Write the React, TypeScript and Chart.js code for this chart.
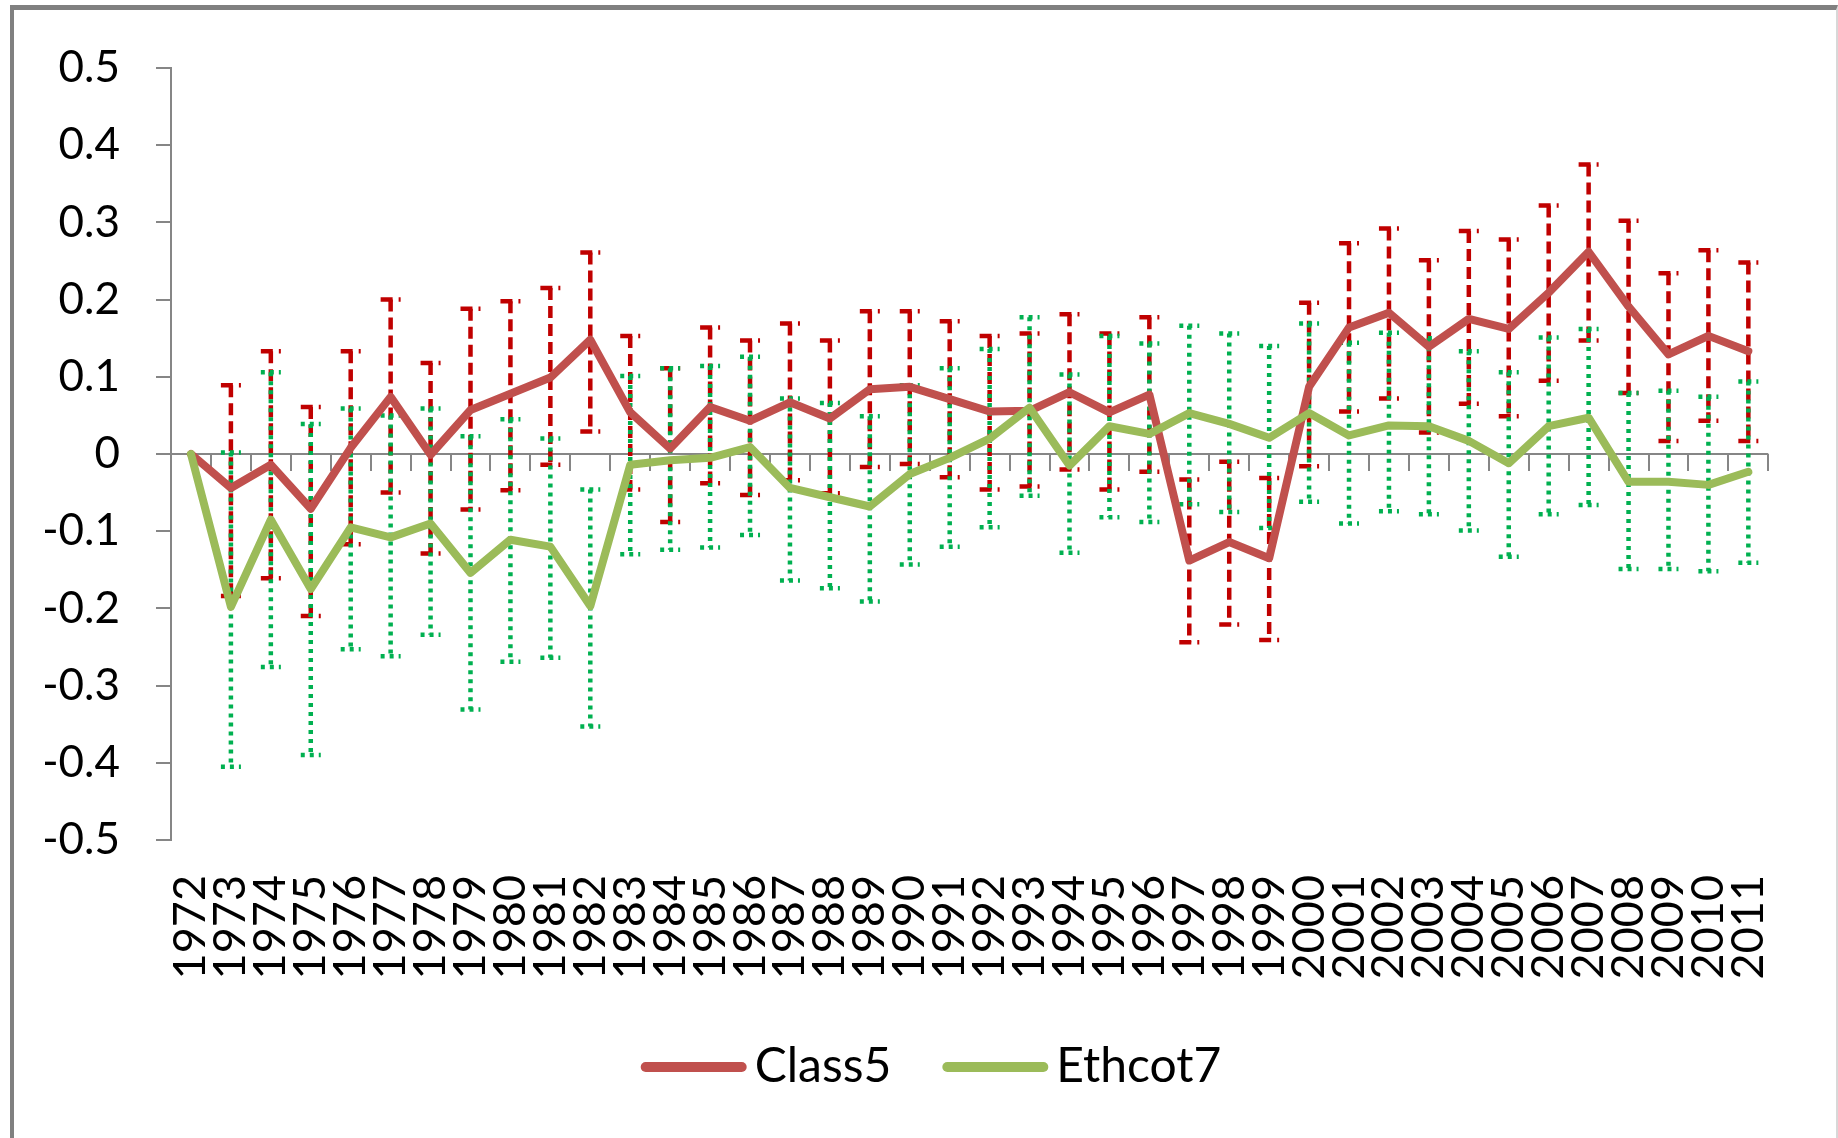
import React, { useEffect, useRef } from "react";
import { Chart, registerables } from "chart.js";

Chart.register(...registerables);

const years = [
  "1972", "1973", "1974", "1975", "1976", "1977", "1978", "1979", "1980", "1981",
  "1982", "1983", "1984", "1985", "1986", "1987", "1988", "1989", "1990", "1991",
  "1992", "1993", "1994", "1995", "1996", "1997", "1998", "1999", "2000", "2001",
  "2002", "2003", "2004", "2005", "2006", "2007", "2008", "2009", "2010", "2011",
];

const class5 = [
  0, -0.044, -0.014, -0.071, 0.008, 0.074, -0.001, 0.057, 0.078, 0.099,
  0.148, 0.054, 0.007, 0.061, 0.043, 0.067, 0.046, 0.084, 0.087, 0.071,
  0.055, 0.056, 0.08, 0.054, 0.077, -0.138, -0.114, -0.135, 0.087, 0.164,
  0.183, 0.139, 0.175, 0.162, 0.209, 0.262, 0.191, 0.129, 0.153, 0.133,
];

const class5Upper = [
  null, 0.089, 0.133, 0.061, 0.133, 0.2, 0.118, 0.188, 0.198, 0.215,
  0.261, 0.153, 0.111, 0.164, 0.147, 0.169, 0.147, 0.185, 0.185, 0.172,
  0.153, 0.156, 0.181, 0.156, 0.177, -0.033, -0.01, -0.031, 0.196, 0.273,
  0.292, 0.251, 0.289, 0.278, 0.322, 0.375, 0.302, 0.234, 0.264, 0.248,
];

const class5Lower = [
  null, -0.184, -0.161, -0.21, -0.117, -0.05, -0.129, -0.072, -0.047, -0.014,
  0.029, -0.046, -0.088, -0.038, -0.053, -0.034, -0.051, -0.017, -0.013, -0.03,
  -0.046, -0.042, -0.02, -0.046, -0.023, -0.244, -0.221, -0.241, -0.016, 0.055,
  0.072, 0.028, 0.065, 0.049, 0.095, 0.147, 0.079, 0.017, 0.043, 0.017,
];

const ethcot7 = [
  0, -0.198, -0.085, -0.175, -0.095, -0.108, -0.09, -0.154, -0.111, -0.12,
  -0.197, -0.014, -0.008, -0.005, 0.009, -0.044, -0.056, -0.068, -0.026, -0.005,
  0.02, 0.06, -0.015, 0.036, 0.026, 0.053, 0.039, 0.021, 0.053, 0.024,
  0.037, 0.036, 0.017, -0.012, 0.036, 0.047, -0.036, -0.036, -0.04, -0.023,
];

const ethcot7Upper = [
  null, 0.002, 0.106, 0.039, 0.059, 0.05, 0.059, 0.023, 0.045, 0.02,
  -0.046, 0.101, 0.111, 0.114, 0.126, 0.072, 0.066, 0.049, 0.089, 0.111,
  0.136, 0.177, 0.103, 0.153, 0.143, 0.166, 0.156, 0.14, 0.169, 0.144,
  0.157, 0.15, 0.133, 0.106, 0.151, 0.162, 0.079, 0.082, 0.074, 0.094,
];

const ethcot7Lower = [
  null, -0.405, -0.276, -0.39, -0.253, -0.262, -0.234, -0.331, -0.269, -0.264,
  -0.353, -0.13, -0.124, -0.121, -0.105, -0.164, -0.174, -0.191, -0.143, -0.12,
  -0.095, -0.054, -0.128, -0.082, -0.088, -0.065, -0.075, -0.096, -0.062, -0.09,
  -0.074, -0.078, -0.099, -0.133, -0.078, -0.066, -0.149, -0.149, -0.152, -0.141,
];

const yTickLabels = ["-0.5", "-0.4", "-0.3", "-0.2", "-0.1", "0", "0.1", "0.2", "0.3", "0.4", "0.5"];

const seriesNames = ["Class5", "Ethcot7"];

const RED = "#C0504D";
const GREEN = "#9BBB59";
const RED_ERR = "#C00000";
const GREEN_ERR = "#00B050";
const AXIS_GRAY = "#868686";
const FONT = "Lato";

function drawErrorBars(
  chart: any,
  upper: (number | null)[],
  lower: (number | null)[],
  color: string,
  dash: number[]
) {
  const { ctx, scales } = chart;
  const xs = scales.x;
  const ys = scales.y;
  ctx.save();
  ctx.strokeStyle = color;
  ctx.lineWidth = 4.5;
  ctx.lineCap = "butt";
  ctx.setLineDash(dash);
  for (let i = 0; i < upper.length; i++) {
    const u = upper[i];
    const l = lower[i];
    if (u == null || l == null) continue;
    const x = xs.getPixelForValue(i);
    const yt = ys.getPixelForValue(u);
    const yb = ys.getPixelForValue(l);
    ctx.beginPath();
    ctx.moveTo(x, yt);
    ctx.lineTo(x, yb);
    ctx.stroke();
    ctx.beginPath();
    ctx.moveTo(x - 10, yt);
    ctx.lineTo(x + 10, yt);
    ctx.stroke();
    ctx.beginPath();
    ctx.moveTo(x - 10, yb);
    ctx.lineTo(x + 10, yb);
    ctx.stroke();
  }
  ctx.restore();
}

const underlayPlugin = {
  id: "underlay",
  beforeDatasetsDraw(chart: any) {
    const { ctx, chartArea, scales } = chart;
    const y0 = scales.y.getPixelForValue(0);
    const n = years.length;
    const w = (chartArea.right - chartArea.left) / n;
    ctx.save();
    ctx.strokeStyle = AXIS_GRAY;
    ctx.lineWidth = 2;
    ctx.beginPath();
    ctx.moveTo(chartArea.left, y0);
    ctx.lineTo(chartArea.right, y0);
    for (let i = 1; i <= n; i++) {
      const xx = Math.round(chartArea.left + i * w);
      ctx.moveTo(xx, y0);
      ctx.lineTo(xx, y0 + 17);
    }
    ctx.stroke();
    ctx.restore();
    drawErrorBars(chart, class5Upper, class5Lower, RED_ERR, [12, 6]);
    drawErrorBars(chart, ethcot7Upper, ethcot7Lower, GREEN_ERR, [4, 5]);
  },
};

const legendPlugin = {
  id: "customLegend",
  afterDraw(chart: any) {
    const { ctx } = chart;
    const colors = [RED, GREEN];
    const swatch = 106;
    const gap = 8;
    const itemGap = 51;
    const cy = 1067;
    const centerX = 931;
    ctx.save();
    ctx.font = `48px ${FONT}`;
    const widths = seriesNames.map((s) => ctx.measureText(s).width);
    const total = widths.reduce((a, b) => a + b, 0) + seriesNames.length * (swatch + gap) + itemGap * (seriesNames.length - 1);
    let x = centerX - total / 2;
    seriesNames.forEach((name, i) => {
      ctx.strokeStyle = colors[i];
      ctx.lineWidth = 10;
      ctx.lineCap = "round";
      ctx.beginPath();
      ctx.moveTo(x + 5, cy);
      ctx.lineTo(x + swatch - 5, cy);
      ctx.stroke();
      x += swatch + gap;
      ctx.fillStyle = "#000";
      ctx.textBaseline = "middle";
      ctx.textAlign = "left";
      ctx.fillText(name, x, cy);
      x += widths[i] + itemGap;
    });
    ctx.restore();
  },
};

export default function App() {
  const ref = useRef<HTMLCanvasElement>(null);

  useEffect(() => {
    const canvas = ref.current;
    if (!canvas) return;
    const chart = new Chart(canvas, {
      type: "line",
      data: {
        labels: years,
        datasets: [
          {
            label: seriesNames[0],
            data: class5,
            borderColor: RED,
            backgroundColor: RED,
            borderWidth: 8,
            pointRadius: 0,
            tension: 0,
            fill: false,
            borderJoinStyle: "round",
            borderCapStyle: "round",
            order: 2,
          },
          {
            label: seriesNames[1],
            data: ethcot7,
            borderColor: GREEN,
            backgroundColor: GREEN,
            borderWidth: 8,
            pointRadius: 0,
            tension: 0,
            fill: false,
            borderJoinStyle: "round",
            borderCapStyle: "round",
            order: 1,
          },
        ],
      },
      options: {
        responsive: false,
        maintainAspectRatio: false,
        devicePixelRatio: 1,
        animation: false,
        layout: { padding: { left: 0, top: 68, right: 52, bottom: 148 } },
        plugins: {
          legend: { display: false },
          tooltip: { enabled: false },
        },
        scales: {
          x: {
            type: "category",
            offset: true,
            grid: { display: false, drawTicks: false },
            border: { display: false },
            ticks: {
              autoSkip: false,
              minRotation: 90,
              maxRotation: 90,
              padding: 35,
              color: "#000",
              font: { family: FONT, size: 45 },
            },
            afterFit: (s: any) => {
              s.height = 150;
            },
          },
          y: {
            min: -0.5,
            max: 0.5,
            ticks: {
              stepSize: 0.1,
              padding: 36,
              color: "#000",
              font: { family: FONT, size: 44 },
              callback: (_v: any, i: number) => yTickLabels[i],
            },
            grid: {
              drawOnChartArea: false,
              drawTicks: true,
              tickLength: 15,
              color: AXIS_GRAY,
              lineWidth: 2,
            },
            border: { display: true, color: AXIS_GRAY, width: 2 },
            afterFit: (s: any) => {
              s.width = 171;
            },
          },
        },
      },
      plugins: [underlayPlugin, legendPlugin],
    } as any);
    return () => chart.destroy();
  }, []);

  return (
    <div
      style={{
        position: "absolute",
        left: 0,
        top: 0,
        width: 1838,
        height: 1138,
        background: "#fff",
        overflow: "hidden",
      }}
    >
      <canvas
        ref={ref}
        width={1838}
        height={1138}
        style={{ position: "absolute", left: 0, top: 0, width: 1838, height: 1138 }}
      />
      <div
        style={{
          position: "absolute",
          left: 10,
          top: 5,
          width: 1828,
          height: 1200,
          borderTop: "5px solid #808080",
          borderLeft: "4px solid #808080",
          borderRight: "2px solid #d8d8d8",
          boxSizing: "border-box",
          pointerEvents: "none",
        }}
      />
    </div>
  );
}
